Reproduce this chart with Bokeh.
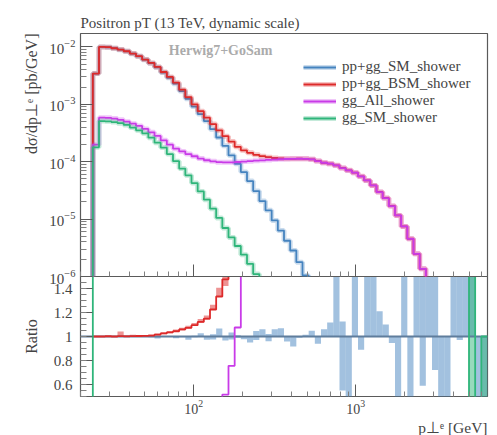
import numpy as np
from bokeh.plotting import figure
from bokeh.layouts import column
from bokeh.models import (FixedTicker, Legend, LegendItem, Title, Label,
                          CustomJSTickFormatter, Range1d)
from bokeh.embed import file_html
from bokeh.resources import INLINE

# ---------------- data ----------------
PT_MIN, PT_MAX = 20.0, 6500.0
N_BINS = 66
BIN_EDGES = np.logspace(np.log10(PT_MIN), np.log10(PT_MAX), N_BINS + 1)

SERIES_NAMES = ["pp+gg_SM_shower", "pp+gg_BSM_shower", "gg_All_shower", "gg_SM_shower"]

PPGG_SM = [0, 0, 3.43e-3, 1.00e-2, 9.87e-3, 9.48e-3, 8.97e-3, 8.40e-3, 7.63e-3, 6.86e-3,
           6.00e-3, 5.22e-3, 4.42e-3, 3.57e-3, 2.90e-3, 2.29e-3, 1.70e-3, 1.25e-3, 9.14e-4, 6.77e-4,
           5.10e-4, 3.69e-4, 2.64e-4, 1.89e-4, 1.29e-4, 9.20e-5, 6.60e-5, 4.60e-5, 3.08e-5, 2.06e-5,
           1.42e-5, 9.5e-6, 6.3e-6, 4.2e-6, 2.84e-6, 1.78e-6, 1.04e-6, 0, 0, 0,
           0, 0, 0, 0, 0, 0, 0, 0, 0, 0,
           0, 0, 0, 0, 0, 0, 0, 0, 0, 0,
           0, 0, 4e-9, 3e-9, 5e-9, 2e-9]

PPGG_BSM = [0, 0, 3.43e-3, 1.00e-2, 9.89e-3, 9.48e-3, 9.00e-3, 8.41e-3, 7.66e-3, 6.89e-3,
            6.03e-3, 5.26e-3, 4.49e-3, 3.66e-3, 3.00e-3, 2.39e-3, 1.80e-3, 1.34e-3, 1.00e-3, 7.59e-4,
            5.86e-4, 4.52e-4, 3.52e-4, 2.79e-4, 2.24e-4, 1.82e-4, 1.58e-4, 1.43e-4, 1.32e-4, 1.25e-4,
            1.20e-4, 1.16e-4, 1.14e-4, 1.125e-4, 1.125e-4, 1.13e-4, 1.125e-4, 1.10e-4, 1.03e-4, 9.60e-5,
            9.25e-5, 8.65e-5, 7.78e-5, 7.08e-5, 6.45e-5, 5.57e-5, 4.73e-5, 3.87e-5, 2.97e-5, 2.33e-5,
            1.70e-5, 1.16e-5, 7.46e-6, 4.55e-6, 2.48e-6, 1.36e-6, 0, 0, 0, 0,
            0, 0, 0, 0, 0, 0]

GG_ALL = [0, 0, 1.98e-4, 5.86e-4, 5.81e-4, 5.64e-4, 5.37e-4, 4.99e-4, 4.60e-4, 4.20e-4,
          3.72e-4, 3.25e-4, 2.81e-4, 2.36e-4, 1.98e-4, 1.69e-4, 1.51e-4, 1.36e-4, 1.245e-4, 1.135e-4,
          1.06e-4, 1.014e-4, 9.82e-5, 9.75e-5, 9.75e-5, 9.89e-5, 1.005e-4, 1.023e-4, 1.042e-4, 1.059e-4,
          1.076e-4, 1.091e-4, 1.104e-4, 1.114e-4, 1.122e-4, 1.127e-4, 1.122e-4, 1.099e-4, 1.028e-4, 9.59e-5,
          9.23e-5, 8.63e-5, 7.76e-5, 7.06e-5, 6.43e-5, 5.55e-5, 4.72e-5, 3.86e-5, 2.96e-5, 2.32e-5,
          1.69e-5, 1.16e-5, 7.45e-6, 4.54e-6, 2.48e-6, 1.36e-6, 0, 0, 0, 0,
          0, 0, 0, 0, 0, 0]

GG_SM = [2e-8, 2e-8, 1.78e-4, 5.10e-4, 5.05e-4, 4.90e-4, 4.70e-4, 4.37e-4, 3.93e-4, 3.52e-4,
         3.12e-4, 2.62e-4, 2.15e-4, 1.76e-4, 1.36e-4, 1.02e-4, 7.6e-5, 5.8e-5, 4.25e-5, 3.04e-5,
         2.18e-5, 1.52e-5, 1.05e-5, 7.0e-6, 4.8e-6, 3.4e-6, 2.4e-6, 1.66e-6, 1.1e-6, 0,
         0, 0, 0, 0, 0, 0, 0, 0, 0, 0,
         0, 0, 0, 0, 0, 0, 0, 0, 0, 0,
         0, 0, 0, 0, 0, 0, 0, 0, 0, 0,
         0, 0, 0, 1e-8, 0, 2e-9]

nan = float("nan")
# uncertainty bands in the ratio panel (relative to pp+gg_SM_shower)
SM_BAND_LO = [nan, nan, 0.996, 0.998, 0.998, 0.997, 0.996, 0.995, 0.996, 0.995,
              0.995, 0.994, 0.983, 0.996, 0.995, 0.985, 0.994, 0.972, 0.994, 1.000,
              0.972, 0.975, 1.000, 0.966, 0.975, 0.990, 0.978, 0.950, 0.970, 1.000,
              0.960, 1.000, 1.000, 0.959, 0.917, 0.990, 1.000, 1.000, 0.940, 1.000,
              1.000, 1.000, 0.550, 0.000, 1.000, 0.890, 1.000, 1.000, 1.000, 1.000,
              0.945, 0.000, 1.000, 0.000, 1.000, 0.590, 1.000, 0.720, 0.000, 0.000,
              1.000, 0.970, 1.000, 1.000, 0.000, 0.000]
SM_BAND_HI = [nan, nan, 1.004, 1.002, 1.002, 1.003, 1.003, 1.004, 1.004, 1.005,
              1.003, 1.004, 1.000, 1.004, 1.005, 1.000, 1.005, 1.000, 1.006, 1.028,
              1.000, 1.019, 1.066, 1.000, 1.033, 1.011, 1.000, 1.000, 1.045, 1.060,
              1.020, 1.060, 1.069, 1.000, 1.000, 1.004, 1.014, 1.047, 1.000, 1.060,
              1.116, 2.000, 1.124, 1.000, 2.000, 1.000, 2.000, 2.000, 1.210, 1.100,
              1.000, 1.000, 2.000, 1.000, 2.000, 2.000, 2.000, 2.000, 1.000, 1.000,
              2.000, 2.000, 2.000, 2.000, 1.000, 1.000]
BSM_BAND_LO = [nan, nan, 0.998, 0.998, 0.999, 0.998, 1.000, 0.999, 1.000, 1.000,
               1.000, 1.002, 1.008, 1.018, 1.028, 1.038, 1.050, 1.066, 1.088, 1.115,
               1.140, 1.220, 1.330, 1.420] + [nan] * 42
BSM_BAND_HI = [nan, nan, 1.004, 1.004, 1.006, 1.004, 1.041, 1.012, 1.015, 1.012,
               1.012, 1.016, 1.025, 1.035, 1.045, 1.058, 1.072, 1.090, 1.112, 1.146,
               1.175, 1.265, 1.406, 1.560] + [nan] * 42
GGSM_BAND_LO = [nan] * 63 + [0.0, nan, 0.0]
GGSM_BAND_HI = [nan] * 63 + [2.0, nan, 1.0]

COLORS = ["#4583bf", "#dd2a2a", "#c93be8", "#2fb57a"]
FONT = "Liberation Serif"
FRAME = "#5a5a5a"
OVERLAP = 12

# ---------------- helpers ----------------
def step_xy(vals, floor=None):
    v = np.asarray(vals, dtype=float)
    if floor is not None:
        v = np.where(v > 0, v, floor)
    xs = np.column_stack([BIN_EDGES[:-1], BIN_EDGES[1:]]).ravel()
    ys = np.repeat(v, 2)
    return xs, ys


def ratio_to(vals, ref):
    vals = np.asarray(vals, dtype=float)
    ref = np.asarray(ref, dtype=float)
    out = np.full_like(vals, np.nan)
    pos = ref > 0
    out[pos] = vals[pos] / ref[pos]
    out[(~pos) & (vals > 0)] = 1e3   # infinite ratio -> far above the panel
    return out


def style_frame(p):
    p.grid.visible = False
    p.outline_line_color = FRAME
    p.outline_line_width = 1.2
    p.border_fill_alpha = 0
    p.background_fill_color = "white"


MAJOR_X = [100, 1000]
MINOR_X = [m * d for d in (10, 100, 1000) for m in range(2, 10) if 20 <= m * d <= 6500]

# ---------------- main panel ----------------
main = figure(width=497, height=276 + OVERLAP, x_axis_type="log", y_axis_type="log",
              x_range=Range1d(PT_MIN, PT_MAX), y_range=Range1d(1e-6, 10 ** -1.766),
              output_backend="svg", toolbar_location=None,
              min_border_left=80, min_border_right=10, min_border_top=33,
              min_border_bottom=OVERLAP,
              title="Positron pT (13 TeV, dynamic scale)")
style_frame(main)
try:
    main.styles = {"z-index": "2"}
except Exception:
    pass
main.title.align = "left"
main.title.text_font = FONT
main.title.text_font_size = "15px"
main.title.text_font_style = "normal"
main.title.standoff = 6

main.xaxis.ticker = FixedTicker(ticks=MAJOR_X, minor_ticks=MINOR_X)
main.xaxis.major_label_text_font_size = "1px"
main.xaxis.major_label_text_alpha = 0
main.xaxis.major_label_standoff = 0
main.yaxis.ticker = FixedTicker(ticks=[1e-6, 1e-5, 1e-4, 1e-3, 1e-2],
                                minor_ticks=[m * 10.0 ** e for e in range(-6, -1) for m in range(2, 10)])
main.yaxis.major_label_text_font = FONT
main.yaxis.major_label_text_font_size = "15px"
main.yaxis.major_label_standoff = 5
for ax in (main.xaxis[0], main.yaxis[0]):
    ax.axis_line_color = None
    ax.major_tick_in = 12
    ax.major_tick_out = 0
    ax.minor_tick_in = 6
    ax.minor_tick_out = 0
    ax.major_tick_line_color = FRAME
    ax.minor_tick_line_color = "#808080"
main.xaxis.minor_tick_in = 5

main.add_layout(Title(text="dσ/dp⊥ᵉ [pb/GeV]", align="right", text_font=FONT,
                      text_font_size="16px", text_font_style="normal", standoff=13), "left")

items = []
for name, vals, col in zip(SERIES_NAMES, [PPGG_SM, PPGG_BSM, GG_ALL, GG_SM], COLORS):
    xs, ys = step_xy(vals, floor=1e-12)
    halo = main.line(xs, ys, line_color=col, line_width=5, line_alpha=0.28)
    ln = main.line(xs, ys, line_color=col, line_width=1.8)
    items.append(LegendItem(label=name, renderers=[halo, ln]))

legend = Legend(items=items, location=(223, 150), padding=0, margin=0, spacing=0,
                glyph_width=33, glyph_height=16, label_height=16, label_standoff=6,
                label_text_font=FONT, label_text_font_size="15px",
                border_line_alpha=0, background_fill_alpha=0)
main.add_layout(legend)

main.add_layout(Label(x=146.5, y=8.76e-3, text="Herwig7+GoSam", text_align="center",
                      text_baseline="middle", text_font=FONT, text_font_style="bold",
                      text_font_size="14px", text_color="#ababab"))

# ---------------- ratio panel ----------------
ratio = figure(width=497, height=159, x_axis_type="log",
               x_range=main.x_range, y_range=Range1d(0.5, 1.5),
               output_backend="svg", toolbar_location=None,
               min_border_left=80, min_border_right=10, min_border_top=0, min_border_bottom=38,
               margin=(-OVERLAP, 0, 0, 0))
style_frame(ratio)

ratio.xaxis.ticker = FixedTicker(ticks=MAJOR_X, minor_ticks=MINOR_X)
ratio.xaxis.major_label_text_font = FONT
ratio.xaxis.major_label_text_font_size = "14px"
ratio.xaxis.major_label_standoff = 3
ratio.yaxis.ticker = FixedTicker(ticks=[0.6, 0.8, 1.0, 1.2, 1.4],
                                 minor_ticks=[round(0.5 + 0.05 * i, 2) for i in range(21)])
ratio.yaxis.formatter = CustomJSTickFormatter(code="return String(Math.round(tick*10)/10);")
ratio.yaxis.major_label_text_font = FONT
ratio.yaxis.major_label_text_font_size = "15px"
ratio.yaxis.major_label_standoff = 8
ratio.yaxis.axis_label = "Ratio"
ratio.yaxis.axis_label_text_font = FONT
ratio.yaxis.axis_label_text_font_size = "16px"
ratio.yaxis.axis_label_text_font_style = "normal"
ratio.yaxis.axis_label_standoff = 11
for ax in (ratio.xaxis[0], ratio.yaxis[0]):
    ax.axis_line_color = None
    ax.major_tick_in = 12
    ax.major_tick_out = 0
    ax.minor_tick_in = 6
    ax.minor_tick_out = 0
    ax.major_tick_line_color = FRAME
    ax.minor_tick_line_color = "#808080"
ratio.xaxis.minor_tick_in = 5

ratio.add_layout(Title(text="p⊥ᵉ [GeV]", align="right", text_font=FONT,
                       text_font_size="15.5px", text_font_style="normal", standoff=0), "below")


def band(p, lo, hi, col):
    lo = np.asarray(lo, dtype=float)
    hi = np.asarray(hi, dtype=float)
    ok = ~(np.isnan(lo) | np.isnan(hi))
    p.quad(left=BIN_EDGES[:-1][ok], right=BIN_EDGES[1:][ok], bottom=lo[ok], top=hi[ok],
           fill_color=col, fill_alpha=0.5, line_color=None)


band(ratio, SM_BAND_LO, SM_BAND_HI, COLORS[0])
band(ratio, BSM_BAND_LO, BSM_BAND_HI, COLORS[1])
band(ratio, GGSM_BAND_LO, GGSM_BAND_HI, COLORS[3])

ref_xs, ref_ys = step_xy(np.ones(N_BINS))
ratio.line(ref_xs, ref_ys, line_color="#5f7d9c", line_width=1.8)
for vals, col in zip([PPGG_BSM, GG_ALL, GG_SM], COLORS[1:]):
    xs, ys = step_xy(ratio_to(vals, PPGG_SM))
    ratio.line(xs, ys, line_color=col, line_width=1.8)

layout = column(main, ratio, spacing=0)
open("out.html", "w").write(file_html(layout, INLINE))
